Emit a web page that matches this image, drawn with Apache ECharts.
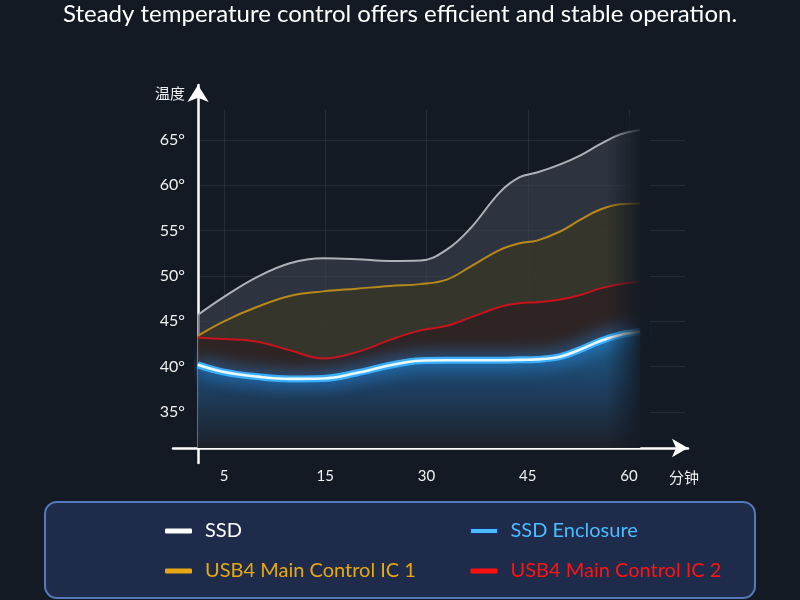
<!DOCTYPE html>
<html>
<head>
<meta charset="utf-8">
<title>Temperature</title>
<script src="https://cdn.jsdelivr.net/npm/echarts@6.0.0/dist/echarts.min.js"></script>
<style>
  html, body { margin: 0; padding: 0; background: #131a24; }
  #main { width: 800px; height: 600px; }
</style>
</head>
<body>
<div id="main"></div>
<script>
// x positions in tick-index units (0 = "5", 4 = "60")
var xPos = [-0.26, 0, 0.33, 0.65, 0.98, 1.31, 1.64, 1.94, 2.2, 2.43, 2.73, 2.92, 3.09, 3.32, 3.52, 3.71, 3.91, 4.11];
var ssd = [45.7, 47.7, 49.9, 51.4, 51.95, 51.85, 51.65, 51.7, 52.9, 55.2, 59.3, 60.9, 61.4, 62.3, 63.3, 64.5, 65.6, 66.1];
var usbIc1 = [43.4, 45.0, 46.6, 47.8, 48.3, 48.6, 48.9, 49.1, 49.6, 51.0, 52.9, 53.6, 53.9, 54.9, 56.2, 57.3, 57.9, 58.0];
var usbIc2 = [43.2, 43.05, 42.75, 41.8, 40.9, 41.6, 42.95, 44.0, 44.5, 45.4, 46.6, 47.0, 47.1, 47.4, 47.9, 48.6, 49.1, 49.4];
var enclosure = [40.2, 39.4, 38.9, 38.65, 38.7, 39.3, 40.15, 40.65, 40.7, 40.7, 40.7, 40.75, 40.8, 41.1, 41.9, 42.8, 43.5, 43.85];

var xLabels = ['5', '15', '30', '45', '60'];
var xTicks = [0, 1, 2, 3, 4];
var yTicks = [35, 40, 45, 50, 55, 60, 65];

function pairs(vals) {
    return xPos.map(function (x, i) { return [x, vals[i]]; });
}

echarts_1();

function echarts_1() {
    var myChart = echarts.init(document.getElementById('main'));
    var font = 'Lato, "Noto Sans", sans-serif';
    var cjk = '"Noto Sans CJK SC", sans-serif';

    option = {
        backgroundColor: '#131a24',
        animation: false,
        title: {
            text: 'Steady temperature control offers efficient and stable operation.',
            left: 'center',
            top: 2,
            padding: 0,
            textStyle: { color: '#ffffff', fontSize: 24, fontWeight: 'normal', fontFamily: font }
        },
        legend: [{
            data: [
                { name: 'SSD', itemStyle: { color: '#ffffff' }, textStyle: { color: '#ffffff' } },
                { name: 'USB4 Main Control IC 1', itemStyle: { color: '#e6a817' }, textStyle: { color: '#e8a812' } }
            ],
            orient: 'vertical',
            left: 165,
            top: 521,
            padding: 0,
            icon: 'roundRect',
            itemWidth: 27,
            itemHeight: 5,
            itemGap: 20,
            textStyle: { fontSize: 20, fontFamily: font, padding: [0, 0, 0, 8] }
        }, {
            data: [
                { name: 'SSD Enclosure', itemStyle: { color: '#4dbcff', borderColor: '#12307a', borderWidth: 1 }, textStyle: { color: '#4dbcff' } },
                { name: 'USB4 Main Control IC 2', itemStyle: { color: '#ff1010' }, textStyle: { color: '#ff1414' } }
            ],
            orient: 'vertical',
            left: 470,
            top: 521,
            padding: 0,
            icon: 'roundRect',
            itemWidth: 27,
            itemHeight: 5,
            itemGap: 20,
            textStyle: { fontSize: 20, fontFamily: font, padding: [0, 0, 0, 8] }
        }],
        grid: [
            { left: 198, right: 115, top: 110, bottom: 152 },
            { left: 173, right: 112, top: 85, bottom: 137 }
        ],
        xAxis: [{
            gridIndex: 0,
            type: 'value',
            min: -0.257,
            max: 4.553,
            axisLine: { show: false },
            axisTick: { show: false, customValues: xTicks },
            axisLabel: {
                customValues: xTicks,
                margin: 21,
                color: '#f0f0f0',
                fontSize: 15,
                fontFamily: font,
                formatter: function (v) { return xLabels[Math.round(v)]; }
            },
            splitLine: { lineStyle: { color: 'rgba(255,255,255,0.08)' } }
        }, {
            gridIndex: 1,
            type: 'value',
            min: 0,
            max: 1,
            offset: -15,
            name: '分钟',
            nameLocation: 'end',
            nameGap: -4,
            nameTextStyle: {
                color: '#f0f0f0', fontSize: 15, fontFamily: cjk,
                align: 'center', verticalAlign: 'top', padding: [22, 0, 0, 0]
            },
            axisLine: {
                onZero: false,
                symbol: ['none', 'arrow'],
                symbolSize: [14, 16],
                lineStyle: { color: '#ffffff', width: 2.5 }
            },
            axisTick: { show: false },
            axisLabel: { show: false },
            splitLine: { show: false }
        }],
        yAxis: [{
            gridIndex: 0,
            type: 'value',
            min: 31.03,
            max: 68.3,
            axisLine: { show: false },
            axisTick: { show: false, customValues: yTicks },
            axisLabel: {
                customValues: yTicks,
                margin: 13,
                color: '#f0f0f0',
                fontSize: 16,
                fontFamily: font,
                formatter: function (v) { return v + '°'; }
            },
            splitLine: { lineStyle: { color: 'rgba(255,255,255,0.08)' } }
        }, {
            gridIndex: 1,
            type: 'value',
            min: 0,
            max: 1,
            offset: -25,
            name: '温度',
            nameLocation: 'end',
            nameGap: -8,
            nameTextStyle: {
                color: '#f0f0f0', fontSize: 15, fontFamily: cjk,
                align: 'right', verticalAlign: 'middle', padding: [0, 13, 0, 0]
            },
            axisLine: {
                onZero: false,
                symbol: ['none', 'arrow'],
                symbolSize: [16, 17],
                lineStyle: { color: '#ffffff', width: 2.5 }
            },
            axisTick: { show: false },
            axisLabel: { show: false },
            splitLine: { show: false }
        }],
        series: [{
            name: 'SSD',
            type: 'line',
            smooth: 0.4,
            symbol: 'none',
            itemStyle: { color: '#ffffff' },
            lineStyle: { color: '#aeb2b8', width: 2 },
            areaStyle: { color: 'rgba(60,67,79,0.92)', origin: 'start' },
            data: pairs(ssd)
        }, {
            name: 'USB4 Main Control IC 1',
            type: 'line',
            smooth: 0.4,
            symbol: 'none',
            itemStyle: { color: '#e6a817' },
            lineStyle: { color: '#b8891a', width: 2 },
            areaStyle: { color: 'rgba(59,53,32,0.93)', origin: 'start' },
            data: pairs(usbIc1)
        }, {
            name: 'USB4 Main Control IC 2',
            type: 'line',
            smooth: 0.4,
            symbol: 'none',
            itemStyle: { color: '#ff1010' },
            lineStyle: { color: '#c8121c', width: 2 },
            areaStyle: { color: 'rgba(43,27,33,0.94)', origin: 'start' },
            data: pairs(usbIc2)
        }, {
            name: 'SSD Enclosure',
            type: 'line',
            smooth: 0.4,
            symbol: 'none',
            itemStyle: { color: '#4dbcff' },
            lineStyle: {
                color: '#3aaeff', width: 7,
                shadowColor: 'rgba(40,150,255,1)', shadowBlur: 18
            },
            areaStyle: {
                origin: 'start',
                color: new echarts.graphic.LinearGradient(0, 0, 0, 1, [
                    { offset: 0, color: 'rgba(22,128,195,0.95)' },
                    { offset: 0.45, color: 'rgba(20,82,138,0.9)' },
                    { offset: 1, color: 'rgba(18,30,45,0.85)' }
                ])
            },
            data: pairs(enclosure)
        }, {
            name: 'SSD Enclosure core',
            type: 'line',
            smooth: 0.4,
            symbol: 'none',
            silent: true,
            lineStyle: { color: '#eaf8ff', width: 2.6 },
            data: pairs(enclosure)
        }],
        graphic: [{
            type: 'rect',
            z: 50,
            shape: { x: 606, y: 115, width: 44, height: 332 },
            style: {
                fill: new echarts.graphic.LinearGradient(0, 0, 1, 0, [
                    { offset: 0, color: 'rgba(19,26,36,0)' },
                    { offset: 0.75, color: 'rgba(19,26,36,0.85)' },
                    { offset: 1, color: 'rgba(19,26,36,0.95)' }
                ])
            }
        }, {
            type: 'rect',
            z: 0,
            shape: { x: 45, y: 502, width: 710, height: 96, r: 12 },
            style: { fill: '#1e2b4b', stroke: '#5579b8', lineWidth: 2 }
        }]
    };

    myChart.setOption(option);
    window.addEventListener('resize', function () {
        myChart.resize();
    });
}
</script>
</body>
</html>
